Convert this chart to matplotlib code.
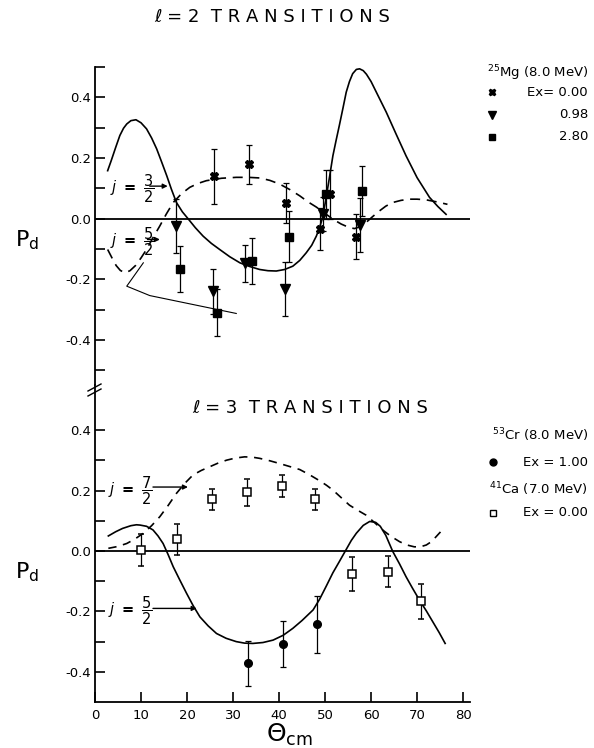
import matplotlib
matplotlib.use("Agg")
import matplotlib.pyplot as plt
from matplotlib.lines import Line2D
from matplotlib.ticker import FixedLocator, FuncFormatter

plt.rcParams['font.family'] = ['DejaVu Sans']
plt.rcParams['axes.unicode_minus'] = False
plt.rcParams['mathtext.fontset'] = 'dejavusans'

# ---------------- l = 2 panel data (25Mg, 8.0 MeV) ----------------
mg0_x = [25.8, 33.5, 41.6, 49.0, 51.0, 56.8]
mg0_y = [0.139, 0.179, 0.051, -0.035, 0.080, -0.060]
mg0_e = [0.090, 0.065, 0.065, 0.070, 0.080, 0.075]

mg1_x = [17.7, 25.7, 32.7, 41.4, 49.5, 57.5]
mg1_y = [-0.024, -0.240, -0.148, -0.232, 0.015, -0.021]
mg1_e = [0.090, 0.075, 0.062, 0.090, 0.055, 0.090]

mg2_x = [18.4, 26.5, 34.2, 42.2, 50.3, 58.1]
mg2_y = [-0.166, -0.311, -0.140, -0.060, 0.080, 0.091]
mg2_e = [0.075, 0.078, 0.075, 0.084, 0.080, 0.081]

# theory j = 3/2 (solid)
l2_j32_x = [2.75, 3.5, 4.5, 5.4, 6.2, 6.9, 7.8, 8.9, 10.0, 11.2, 12.3, 13.4, 14.5,
            15.6, 16.6, 17.7, 19.0, 20.2, 21.8, 23.5, 25.3, 27.1, 29.3, 31.5, 33.6,
            35.8, 37.6, 39.4, 41.2, 43.0, 44.5, 45.9, 47.1, 48.1, 48.8, 49.5, 50.3,
            51.0, 51.7, 52.4, 53.1, 53.9, 54.6, 55.3, 56.0, 56.8, 57.5, 58.3, 59.0,
            60.0, 61.5, 63.3, 65.4, 67.6, 70.0, 72.7, 74.5, 76.3]
l2_j32_y = [0.158, 0.190, 0.235, 0.274, 0.298, 0.312, 0.323, 0.326, 0.316, 0.296,
            0.266, 0.230, 0.186, 0.141, 0.097, 0.053, 0.022, 0.000, -0.030, -0.058,
            -0.082, -0.102, -0.126, -0.146, -0.158, -0.168, -0.172, -0.173, -0.168,
            -0.157, -0.138, -0.113, -0.088, -0.058, -0.030, 0.005, 0.075, 0.140,
            0.207, 0.258, 0.307, 0.365, 0.417, 0.452, 0.478, 0.492, 0.494, 0.488,
            0.476, 0.452, 0.406, 0.351, 0.280, 0.207, 0.135, 0.070, 0.040, 0.014]
# theory j = 5/2 (dashed)
l2_j52_x = [2.75, 3.7, 4.6, 5.5, 6.5, 7.6, 8.8, 10.0, 11.2, 12.6, 14.1, 15.5, 17.0,
            18.8, 20.6, 22.4, 24.2, 27.5, 30.7, 33.3, 35.8, 38.0, 40.1, 42.3, 44.5,
            46.3, 48.1, 50.0, 51.7, 53.5, 55.3, 56.4, 57.6, 58.9, 60.3, 61.8, 63.2,
            64.7, 66.5, 68.3, 70.0, 71.9, 74.3, 76.6]
l2_j52_y = [-0.102, -0.130, -0.155, -0.171, -0.179, -0.172, -0.155, -0.130, -0.102,
            -0.063, -0.024, 0.015, 0.053, 0.082, 0.103, 0.116, 0.125, 0.133, 0.136,
            0.136, 0.134, 0.126, 0.114, 0.096, 0.075, 0.055, 0.038, 0.017, -0.002,
            -0.018, -0.030, -0.033, -0.027, -0.013, 0.006, 0.025, 0.041, 0.053,
            0.060, 0.064, 0.064, 0.062, 0.055, 0.047]
l2_leader_x = [10.5, 6.9, 11.9, 30.7]
l2_leader_y = [-0.146, -0.223, -0.254, -0.313]

# ---------------- l = 3 panel data ----------------
cr_x = [33.3, 40.8, 48.2]
cr_y = [-0.372, -0.308, -0.243]
cr_e = [0.074, 0.075, 0.095]

ca_x = [10.1, 17.9, 25.4, 33.1, 40.7, 47.9, 55.9, 63.6, 70.9]
ca_y = [0.003, 0.039, 0.172, 0.194, 0.215, 0.171, -0.077, -0.068, -0.166]
ca_e = [0.052, 0.052, 0.035, 0.046, 0.036, 0.036, 0.056, 0.050, 0.058]

l3_j72_x = [2.9, 4.9, 6.9, 8.7, 10.5, 12.3, 14.1, 15.9, 17.7, 19.5, 21.3, 23.1,
            24.9, 26.7, 28.6, 30.5, 32.5, 34.2, 35.8, 38.0, 40.1, 42.3, 44.5, 46.7,
            48.8, 50.3, 51.7, 53.5, 55.3, 57.1, 58.9, 60.7, 62.5, 64.3, 66.2, 67.8,
            69.4, 70.7, 72.0, 73.1, 74.1, 75.0, 75.7]
l3_j72_y = [0.009, 0.015, 0.025, 0.040, 0.059, 0.084, 0.114, 0.151, 0.191, 0.224,
            0.252, 0.267, 0.279, 0.291, 0.301, 0.308, 0.312, 0.311, 0.307, 0.299,
            0.290, 0.280, 0.270, 0.252, 0.233, 0.218, 0.202, 0.177, 0.152, 0.135,
            0.119, 0.095, 0.070, 0.049, 0.031, 0.020, 0.014, 0.014, 0.020, 0.031,
            0.047, 0.062, 0.080]
l3_j52_x = [2.9, 4.5, 6.0, 7.8, 9.0, 9.8, 11.2, 12.6, 13.7, 14.8, 15.9, 17.0, 18.4,
            19.9, 21.3, 22.8, 24.6, 26.4, 28.5, 30.7, 32.5, 34.3, 36.5, 38.7, 40.9,
            43.0, 45.0, 47.4, 48.8, 50.3, 51.7, 53.1, 54.4, 55.7, 56.8, 58.3, 59.7,
            61.0, 62.0, 63.2, 64.7, 66.2, 67.6, 69.0, 70.5, 72.0, 73.4, 74.8, 76.1]
l3_j52_y = [0.050, 0.064, 0.075, 0.084, 0.087, 0.086, 0.082, 0.070, 0.050, 0.025,
            -0.012, -0.052, -0.095, -0.140, -0.180, -0.218, -0.248, -0.273, -0.289,
            -0.300, -0.305, -0.306, -0.303, -0.295, -0.279, -0.256, -0.230, -0.195,
            -0.160, -0.115, -0.072, -0.035, 0.000, 0.035, 0.059, 0.085, 0.098,
            0.095, 0.082, 0.052, -0.001, -0.043, -0.085, -0.123, -0.162, -0.198,
            -0.234, -0.270, -0.306]

xticks = [0, 10, 20, 30, 40, 50, 60, 70, 80]

W, H = 594, 748
fig = plt.figure(figsize=(W / 100, H / 100), dpi=100)


def fx(px):
    return px / W


def fy(py):
    return 1 - py / H


left, right = 95, 470
ax1 = fig.add_axes([fx(left), fy(385), (right - left) / W, (385 - 67) / H])
ax2 = fig.add_axes([fx(left), fy(702), (right - left) / W, (702 - 385) / H])


def yfmt(v, pos):
    r = round(v * 10)
    if r % 2 != 0:
        return ''
    return '%.1f' % (r / 10.0) if r != 0 else '0.0'


for ax in (ax1, ax2):
    ax.set_xlim(0, 81.5)
    for s in ('top', 'right'):
        ax.spines[s].set_visible(False)
    ax.spines['left'].set_linewidth(1.3)
    ax.tick_params(axis='y', direction='in', length=7, width=1.2, labelsize=9.5, pad=3)
    ax.yaxis.set_major_formatter(FuncFormatter(yfmt))
    ax.axhline(0, color='k', lw=1.3, zorder=1)

ax1.set_ylim(-0.549, 0.5)
ax1.yaxis.set_major_locator(FixedLocator([0.5, 0.4, 0.3, 0.2, 0.1, 0.0, -0.1, -0.2, -0.3, -0.4, -0.5]))
ax1.spines['bottom'].set_visible(False)
ax1.set_xticks([])

ax2.set_ylim(-0.5, 0.55)
ax2.yaxis.set_major_locator(FixedLocator([0.4, 0.3, 0.2, 0.1, 0.0, -0.1, -0.2, -0.3, -0.4]))
ax2.spines['bottom'].set_linewidth(1.3)
ax2.set_xticks(xticks)
ax2.set_xticklabels([str(t) for t in xticks])
ax2.tick_params(axis='x', direction='in', length=7, width=1.2, labelsize=9.5, pad=5)

# ---- l=2 curves & data
ax1.plot(l2_j32_x, l2_j32_y, color='k', lw=1.2)
ax1.plot(l2_j52_x, l2_j52_y, color='k', lw=1.2, dashes=(6, 4))
ax1.plot(l2_leader_x, l2_leader_y, color='k', lw=0.8)
ekw = dict(ecolor='k', elinewidth=0.9, capsize=2.2, capthick=0.9, ls='none', color='k')
ax1.errorbar(mg0_x, mg0_y, yerr=mg0_e, marker='X', ms=5.5, **ekw)
ax1.errorbar(mg1_x, mg1_y, yerr=mg1_e, marker='v', ms=6.5, **ekw)
ax1.errorbar(mg2_x, mg2_y, yerr=mg2_e, marker='s', ms=5.5, **ekw)

jkw = dict(fontsize=10.5, ha='center', va='center')
arr = dict(arrowstyle='-|>', lw=1.0, color='k', mutation_scale=7, shrinkA=0, shrinkB=0)
ax1.text(8.0, 0.100, r'$\mathit{j}\ \mathbf{=}\ \dfrac{3}{2}$', **jkw)
ax1.annotate('', xy=(15.8, 0.107), xytext=(11.9, 0.107), arrowprops=arr)
ax1.text(8.0, -0.078, r'$\mathit{j}\ \mathbf{=}\ \dfrac{5}{2}$', **jkw)
ax1.annotate('', xy=(14.1, -0.069), xytext=(11.4, -0.069), arrowprops=arr)

# ---- l=3 curves & data
ax2.plot(l3_j52_x, l3_j52_y, color='k', lw=1.2)
ax2.plot(l3_j72_x, l3_j72_y, color='k', lw=1.2, dashes=(5, 4))
ax2.errorbar(cr_x, cr_y, yerr=cr_e, marker='o', ms=5.5, **ekw)
ax2.errorbar(ca_x, ca_y, yerr=ca_e, marker='s', ms=5.5, mfc='white', mec='k', mew=1.1, **ekw)

ax2.text(7.6, 0.200, r'$\mathit{j}\ \mathbf{=}\ \dfrac{7}{2}$', **jkw)
ax2.annotate('', xy=(20.2, 0.212), xytext=(12.6, 0.212), arrowprops=arr)
ax2.text(7.6, -0.197, r'$\mathit{j}\ \mathbf{=}\ \dfrac{5}{2}$', **jkw)
ax2.annotate('', xy=(22.1, -0.19), xytext=(12.6, -0.19), arrowprops=arr)

# ---- axis break marks
for dy in (0, 5):
    fig.add_artist(Line2D([fx(88), fx(101)], [fy(391 + dy), fy(384 + dy)], color='k', lw=1.0))

# ---- titles and labels
fig.text(fx(272), fy(17), 'ℓ = 2  T R A N S I T I O N S', fontsize=13, ha='center', va='center')
fig.text(fx(310), fy(408), 'ℓ = 3  T R A N S I T I O N S', fontsize=13, ha='center', va='center')
fig.text(fx(27), fy(240), r'$\mathsf{P_d}$', fontsize=16, ha='center', va='center')
fig.text(fx(27), fy(572), r'$\mathsf{P_d}$', fontsize=16, ha='center', va='center')
fig.text(fx(290), fy(735), r'$\mathsf{\Theta_{cm}}$', fontsize=18, ha='center', va='center')

# ---- legends
lfs = 9.5
fig.text(fx(588), fy(73), r'$^{25}$Mg (8.0 MeV)', fontsize=lfs, ha='right', va='center')
fig.add_artist(Line2D([fx(492)], [fy(92)], marker='X', ms=5, color='k', ls='none'))
fig.text(fx(588), fy(92), 'Ex= 0.00', fontsize=lfs, ha='right', va='center')
fig.add_artist(Line2D([fx(492)], [fy(115)], marker='v', ms=6, color='k', ls='none'))
fig.text(fx(588), fy(115), '0.98', fontsize=lfs, ha='right', va='center')
fig.add_artist(Line2D([fx(492)], [fy(137)], marker='s', ms=5, color='k', ls='none'))
fig.text(fx(588), fy(137), '2.80', fontsize=lfs, ha='right', va='center')

fig.text(fx(588), fy(435), r'$^{53}$Cr (8.0 MeV)', fontsize=lfs, ha='right', va='center')
fig.add_artist(Line2D([fx(493)], [fy(462)], marker='o', ms=5, color='k', ls='none'))
fig.text(fx(588), fy(462), 'Ex = 1.00', fontsize=lfs, ha='right', va='center')
fig.text(fx(588), fy(489), r'$^{41}$Ca (7.0 MeV)', fontsize=lfs, ha='right', va='center')
fig.add_artist(Line2D([fx(493)], [fy(513)], marker='s', ms=5, mfc='white', mec='k', mew=1.0, ls='none'))
fig.text(fx(588), fy(513), 'Ex = 0.00', fontsize=lfs, ha='right', va='center')

fig.savefig('out.png', dpi=100)
